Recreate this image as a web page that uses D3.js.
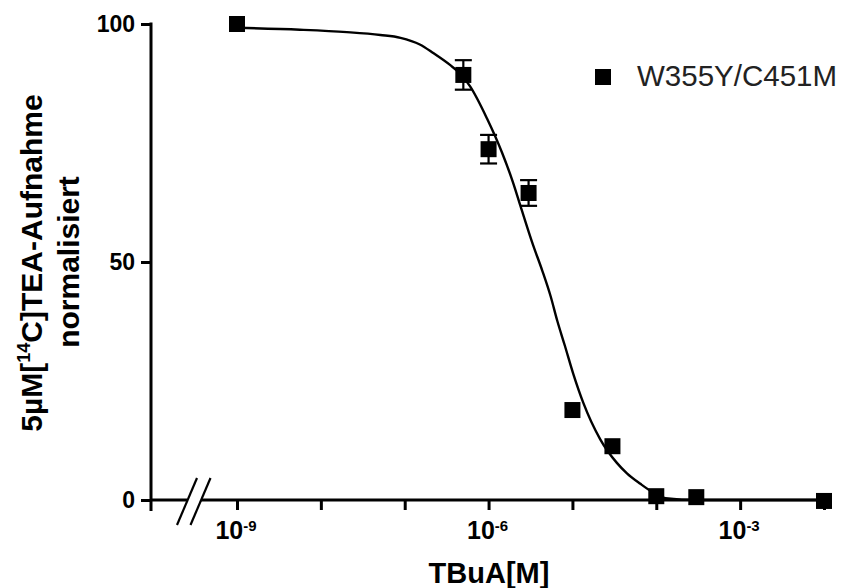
<!DOCTYPE html>
<html lang="de">
<head>
<meta charset="utf-8">
<title>TBuA Hemmkurve</title>
<script src="https://cdnjs.cloudflare.com/ajax/libs/d3/7.8.5/d3.min.js"></script>
<style>
  body { margin: 0; background: #fff; }
  svg { display: block; }
  text { font-family: "Liberation Sans", Arial, sans-serif; }
  .axis path, .axis line { fill: none; stroke: #000; stroke-width: 3; }
</style>
</head>
<body>
<div id="chart"></div>
<script>

// concentrations (M) and normalised uptake
var conc   = [1e-9, 5e-7, 1e-6, 3e-6, 1e-5, 3e-5, 1e-4, 3e-4, 1e-2];
var uptake = [100, 89.3, 73.7, 64.5, 18.9, 11.3, 0.8, 0.6, -0.2];
var sem    = [0, 3.1, 3.0, 2.7, 0, 0, 0, 0, 0];

// fitted curve: log10(conc), value
var fitLog = [-9, -8.25, -7.69, -7.29, -7.05, -6.82, -6.66, -6.46, -6.34, -6.22, -6.02, -5.84, -5.71, -5.62,
              -5.47, -5.36, -5.26, -5.18, -5.09, -4.99, -4.87, -4.67, -4.47, -4.35, -4.19, -4.04, -3.89, -3.5, -2];
var fitVal = [99.2, 98.8, 98.3, 97.7, 97.1, 95.7, 93.9, 91.4, 89.6, 86.9, 80.2, 73.0, 66.8, 61.8,
              53.6, 48.2, 42.8, 37.6, 32.4, 26.5, 20.4, 12.8, 7.8, 5.6, 3.4, 1.6, 0.4, 0, 0];

var xTicks = [1e-9, 1e-8, 1e-7, 1e-6, 1e-5, 1e-4, 1e-3, 1e-2];
var xLabelExp = [-9, -6, -3];
var yTicks = [0, 50, 100];
var seriesName = "W355Y/C451M";

var width = 841, height = 588;

var svg = d3.select("#chart")
  .append("svg")
    .attr("width", width)
    .attr("height", height);

svg.append("rect").attr("width", width).attr("height", height).attr("fill", "#fff");

var x = d3.scaleLog()
  .domain([1e-9, 1e-2])
  .range([237, 824]);

var y = d3.scaleLinear()
  .domain([0, 100])
  .range([500, 24]);

var x0 = 151; // position of the y axis

// Y axis
var yAxis = svg.append("g")
  .attr("class", "axis")
  .attr("transform", "translate(" + x0 + ",0)")
  .call(d3.axisLeft(y).tickValues(yTicks).tickSize(10).tickSizeOuter(0).tickPadding(6));
yAxis.select(".domain").remove();
yAxis.append("line")
  .attr("x1", 0).attr("x2", 0)
  .attr("y1", y(100) - 1.5).attr("y2", y(0) + 11)
  .attr("stroke", "#000").attr("stroke-width", 3);
yAxis.selectAll("text")
  .attr("fill", "#000")
  .style("font-size", "23px")
  .style("font-weight", "bold");

// X axis (right part, after the break)
var xAxis = svg.append("g")
  .attr("class", "axis")
  .attr("transform", "translate(0," + y(0) + ")")
  .call(d3.axisBottom(x).tickValues(xTicks).tickSize(10).tickFormat(""));
xAxis.select(".domain").remove();
xAxis.append("line")
  .attr("x1", 201).attr("x2", 829)
  .attr("y1", 0).attr("y2", 0)
  .attr("stroke", "#000").attr("stroke-width", 3);

// left stub between y axis and the break
svg.append("line")
  .attr("x1", x0).attr("x2", 187)
  .attr("y1", y(0)).attr("y2", y(0))
  .attr("stroke", "#000").attr("stroke-width", 3);

// break marks
[0, 13.5].forEach(function(dx) {
  svg.append("line")
    .attr("x1", 177 + dx).attr("y1", 525)
    .attr("x2", 197 + dx).attr("y2", 478)
    .attr("stroke", "#000").attr("stroke-width", 2.2);
});

// tick labels 10^n
xLabelExp.forEach(function(e) {
  var t = svg.append("text")
    .attr("x", x(Math.pow(10, e)) - 1)
    .attr("y", 539)
    .attr("text-anchor", "middle")
    .style("font-weight", "bold")
    .style("font-size", "25px");
  t.append("tspan").text("10");
  t.append("tspan").attr("dy", -8).style("font-size", "15px").text("-" + Math.abs(e));
});

// axis titles
svg.append("text")
  .attr("x", 489).attr("y", 583)
  .attr("text-anchor", "middle")
  .style("font-weight", "bold")
  .style("font-size", "29px")
  .text("TBuA[M]");

var yt = svg.append("text")
  .attr("transform", "translate(42,263) rotate(-90)")
  .attr("text-anchor", "middle")
  .style("font-weight", "bold")
  .style("font-size", "30px");
yt.append("tspan").text("5µM[");
yt.append("tspan").attr("dy", -12).style("font-size", "18px").text("14");
yt.append("tspan").attr("dy", 12).text("C]TEA-Aufnahme");

svg.append("text")
  .attr("transform", "translate(79,262) rotate(-90)")
  .attr("text-anchor", "middle")
  .style("font-weight", "bold")
  .style("font-size", "30px")
  .text("normalisiert");

// fitted curve
var fit = fitLog.map(function(l, i) { return [Math.pow(10, l), fitVal[i]]; });
svg.append("path")
  .datum(fit)
  .attr("d", d3.line()
    .x(function(d) { return x(d[0]); })
    .y(function(d) { return y(d[1]); })
    .curve(d3.curveMonotoneX))
  .attr("fill", "none")
  .attr("stroke", "#000")
  .attr("stroke-width", 2.4);

// error bars
var data = conc.map(function(c, i) { return {c: c, v: uptake[i], e: sem[i]}; });
var eb = svg.selectAll(".err")
  .data(data.filter(function(d) { return d.e > 0; }))
  .enter().append("g")
  .attr("class", "err")
  .attr("stroke", "#000")
  .attr("stroke-width", 2.2);
eb.append("line")
  .attr("x1", function(d) { return x(d.c); })
  .attr("x2", function(d) { return x(d.c); })
  .attr("y1", function(d) { return y(d.v + d.e); })
  .attr("y2", function(d) { return y(d.v - d.e); });
eb.append("line")
  .attr("x1", function(d) { return x(d.c) - 8.5; })
  .attr("x2", function(d) { return x(d.c) + 8.5; })
  .attr("y1", function(d) { return y(d.v + d.e); })
  .attr("y2", function(d) { return y(d.v + d.e); });
eb.append("line")
  .attr("x1", function(d) { return x(d.c) - 8.5; })
  .attr("x2", function(d) { return x(d.c) + 8.5; })
  .attr("y1", function(d) { return y(d.v - d.e); })
  .attr("y2", function(d) { return y(d.v - d.e); });

// points
svg.selectAll(".pt")
  .data(data)
  .enter().append("rect")
  .attr("class", "pt")
  .attr("x", function(d) { return x(d.c) - 8; })
  .attr("y", function(d) { return y(d.v) - 8; })
  .attr("width", 16)
  .attr("height", 16)
  .attr("fill", "#000");

// legend
svg.append("rect")
  .attr("x", 595).attr("y", 69)
  .attr("width", 16).attr("height", 16)
  .attr("fill", "#000");
svg.append("text")
  .attr("x", 637).attr("y", 86)
  .attr("fill", "#222")
  .style("font-size", "29.5px")
  .text(seriesName);

</script>
</body>
</html>
